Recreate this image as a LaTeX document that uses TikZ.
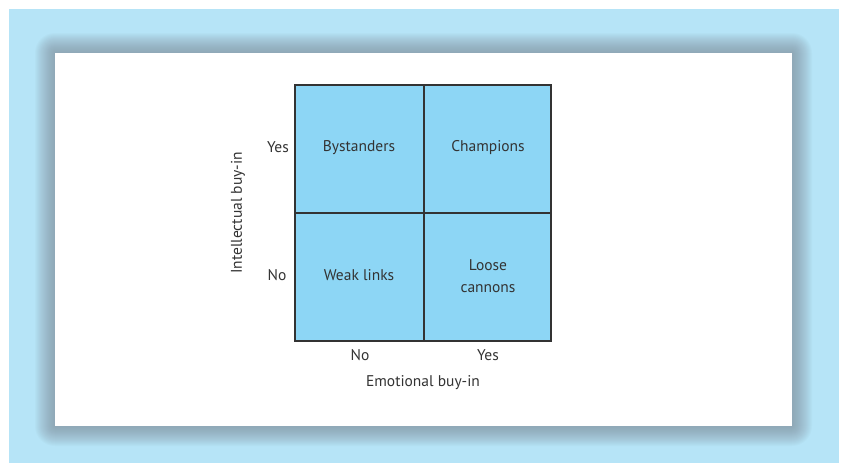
\documentclass[tikz,border=0pt]{standalone}
\usepackage{fontspec}
\setmainfont{PT Sans}
\definecolor{bgblue}{HTML}{B6E4F7}
\definecolor{cellblue}{HTML}{8DD6F5}
\definecolor{shadowgray}{HTML}{7F8A96}
\definecolor{txt}{HTML}{333333}
\definecolor{gridline}{HTML}{333333}
\begin{document}
\begin{tikzpicture}[x=1pt,y=-1pt,
  lbl/.style={text=txt,font=\fontsize{15.5}{22}\selectfont,align=center,inner sep=0pt},
  cell/.style={draw=gridline,line width=1.2pt,fill=cellblue}]
\useasboundingbox (0,0) rectangle (843,463);
\fill[white] (0,0) rectangle (843,463);
\fill[bgblue] (9,9) rectangle (839,463);
% shadow
\foreach \i in {20,19,...,1}{
  \fill[shadowgray,opacity=0.045,rounded corners=\i pt] (55-\i,53-\i) rectangle (792+\i,426+\i);
}
\fill[white] (55,53) rectangle (792,426);
% grid
\fill[cellblue] (295,85) rectangle (551,341);
\draw[gridline,line width=1.3pt] (295,85) rectangle (551,341);
\draw[gridline,line width=1.3pt] (424,85) -- (424,341);
\draw[gridline,line width=1.3pt] (295,213) -- (551,213);
\node[lbl] (by) at (359,148) {Bystanders};
\node[lbl] (ch) at (488,148) {Champions};
\node[lbl] (wl) at (359,275) {Weak links};
\node[lbl] (lc) at (488,276) {Loose\\cannons};
\node[lbl] (ly) at (278,147) {Yes};
\node[lbl] (ln) at (277,275) {No};
\node[lbl] (bn) at (360,355) {No};
\node[lbl] (by2) at (488,355) {Yes};
\node[lbl] (ex) at (423,383) {Emotional buy-in};
\node[lbl,rotate=90] (ey) at (238,213) {Intellectual buy-in};
\end{tikzpicture}
\end{document}
